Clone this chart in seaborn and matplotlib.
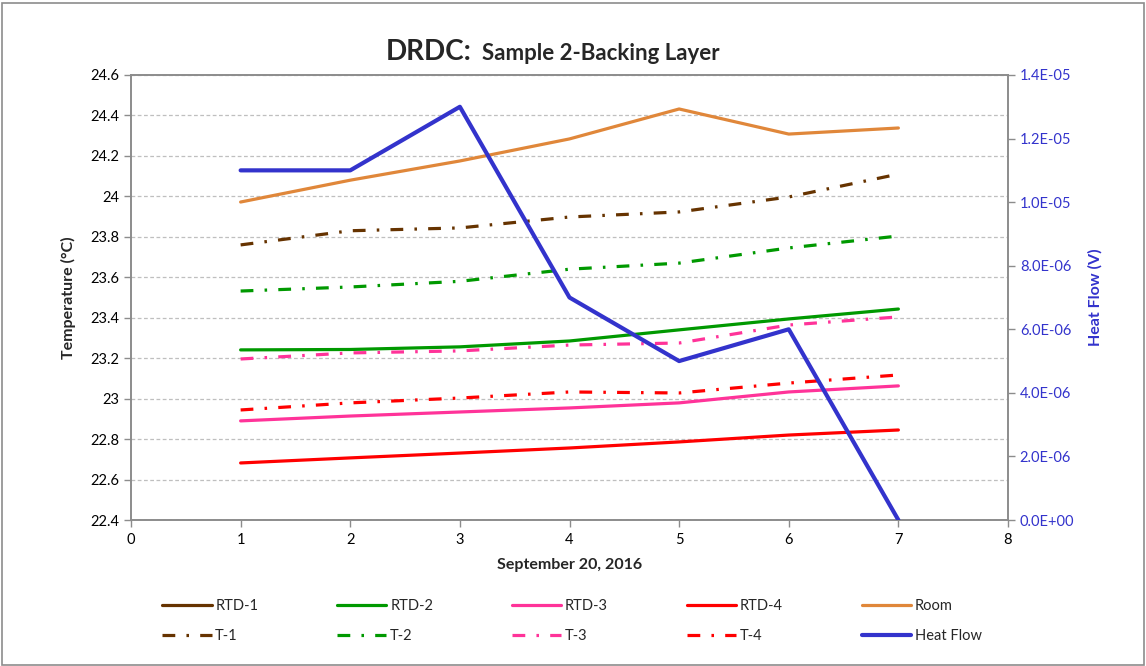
import numpy as np
import pandas as pd
import matplotlib
matplotlib.use("Agg")
import matplotlib.pyplot as plt
import seaborn as sns
from matplotlib.lines import Line2D
from matplotlib.patches import Rectangle
from matplotlib.ticker import FuncFormatter, MultipleLocator

sns.set_theme(style="white")
plt.rcParams['font.family'] = ['Lato', 'DejaVu Sans']

# ---------------- data ----------------
x = [1, 2, 3, 4, 5, 6, 7]
rtd1 = [np.nan] * 7
rtd2 = [23.241, 23.243, 23.256, 23.285, 23.340, 23.394, 23.443]
rtd3 = [22.890, 22.914, 22.934, 22.954, 22.979, 23.033, 23.063]
rtd4 = [22.682, 22.707, 22.731, 22.756, 22.786, 22.820, 22.845]
room = [23.972, 24.080, 24.175, 24.284, 24.432, 24.308, 24.338]
t1 = [23.760, 23.830, 23.844, 23.898, 23.923, 23.997, 24.110]
t2 = [23.532, 23.552, 23.580, 23.640, 23.670, 23.745, 23.804]
t3 = [23.196, 23.226, 23.236, 23.265, 23.275, 23.364, 23.404]
t4 = [22.944, 22.979, 23.003, 23.033, 23.028, 23.077, 23.117]
heat_flow = [1.1e-05, 1.1e-05, 1.3e-05, 7.0e-06, 5.0e-06, 6.0e-06, 0.0]

c_brown = "#663300"
c_green = "#009900"
c_pink = "#FF3399"
c_red = "#FF0000"
c_room = "#E0873A"
c_heat = "#3333CC"

dashdot = (0, (4, 3.5, 0.8, 3.5))
lw = 2.3

fig = plt.figure(figsize=(11.46, 6.66), dpi=100)
ax = fig.add_axes([131 / 1146, 1 - 520 / 666, (1008 - 131) / 1146, (520 - 75) / 666])
ax2 = ax.twinx()

series = [
    ("RTD-1", rtd1, c_brown, "-"),
    ("T-1", t1, c_brown, dashdot),
    ("RTD-2", rtd2, c_green, "-"),
    ("T-2", t2, c_green, dashdot),
    ("RTD-3", rtd3, c_pink, "-"),
    ("T-3", t3, c_pink, dashdot),
    ("RTD-4", rtd4, c_red, "-"),
    ("T-4", t4, c_red, dashdot),
    ("Room", room, c_room, "-"),
]

handles = []
for name, vals, col, ls in series:
    df = pd.DataFrame({"x": x, "y": vals})
    if df["y"].notna().any():
        sns.lineplot(data=df, x="x", y="y", ax=ax, color=col, linewidth=lw,
                     linestyle=ls, legend=False, zorder=3)
    handles.append(Line2D([], [], color=col, linewidth=lw, linestyle=ls, label=name))

dfh = pd.DataFrame({"x": x, "y": heat_flow})
sns.lineplot(data=dfh, x="x", y="y", ax=ax2, color=c_heat, linewidth=3.0,
             legend=False, zorder=3)
handles.append(Line2D([], [], color=c_heat, linewidth=3.0, label="Heat Flow"))

# axes limits and ticks
ax.set_xlim(0, 8)
ax.set_ylim(22.4, 24.6)
ax.xaxis.set_major_locator(MultipleLocator(1))
ax.yaxis.set_major_locator(MultipleLocator(0.2))
ax.yaxis.set_major_formatter(FuncFormatter(lambda v, p: f"{round(v, 2):g}"))
ax2.set_ylim(0, 1.4e-05)
ax2.yaxis.set_major_locator(MultipleLocator(2e-06))
ax2.yaxis.set_major_formatter(FuncFormatter(lambda v, p: f"{v:.1E}"))

ax.grid(axis="y", color="#BFBFBF", linestyle=(0, (3, 2)), linewidth=0.9)
ax.grid(axis="x", visible=False)
ax.set_axisbelow(True)

for a in (ax, ax2):
    for s in a.spines.values():
        s.set_color("#8C8C8C")
        s.set_linewidth(1.2)

ax.tick_params(axis="both", which="major", direction="out", length=5, width=1,
               color="#8C8C8C", labelsize=10.5, labelcolor="black", left=True, bottom=True)
ax2.tick_params(axis="y", direction="out", length=5, width=1, color="#8C8C8C",
                labelsize=10.5, labelcolor=c_heat, right=True)
ax.tick_params(axis="x", pad=4)

ax.set_xlabel("September 20, 2016", fontsize=11.5, fontweight="bold", labelpad=8)
ax.set_ylabel("Temperature (°C)", fontsize=11.5, fontweight="bold", labelpad=10)
ax2.set_ylabel("Heat Flow (V)", fontsize=11.5, fontweight="bold", color=c_heat, labelpad=10)

# title
fig.text(472 / 1146, 1 - 52 / 666, "DRDC:", fontsize=20, fontweight="bold",
         ha="right", va="center")
fig.text(482 / 1146, 1 - 53 / 666, "Sample 2-Backing Layer", fontsize=16,
         fontweight="bold", ha="left", va="center")

# legend
leg = fig.legend(handles=handles, loc="center", ncol=5,
                 bbox_to_anchor=(572 / 1146, 1 - 621 / 666),
                 frameon=False, fontsize=10.5, handlelength=3.4,
                 columnspacing=5.4, handletextpad=0.25, labelspacing=1.15)

# outer border
fig.add_artist(Rectangle((0.002, 0.002), 0.996, 0.994, transform=fig.transFigure,
                         fill=False, edgecolor="#8C8C8C", linewidth=1.2))

fig.savefig("out.png", dpi=100)
